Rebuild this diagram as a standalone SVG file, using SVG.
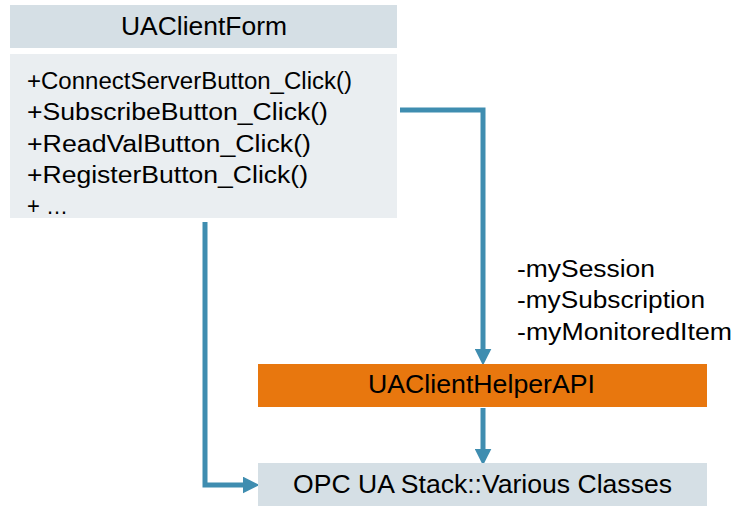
<svg xmlns="http://www.w3.org/2000/svg" width="737" height="506" viewBox="0 0 737 506">
  <style>
    text { font-family: "Liberation Sans", Arial, sans-serif; fill: #000; }
    .title { font-size: 25px; }
    .member { font-size: 23.5px; }
    .conn { fill: none; stroke: #3f8db0; stroke-width: 5; stroke-linejoin: miter; }
  </style>
  <defs>
    <marker id="arrow" viewBox="0 0 10 10" refX="2" refY="5" markerWidth="3.4" markerHeight="3.4" markerUnits="strokeWidth" orient="auto">
      <path d="M0,0 L10,5 L0,10 Z" fill="#3f8db0"/>
    </marker>
  </defs>
  <rect width="737" height="506" fill="#ffffff"/>

  <g id="connectors">
    <path class="conn" d="M400,110 H483 V352" marker-end="url(#arrow)"/>
    <path class="conn" d="M205,222 V485 H246" marker-end="url(#arrow)"/>
    <path class="conn" d="M483,408 V452" marker-end="url(#arrow)"/>
  </g>

  <g id="uaclientform">
    <rect x="10" y="5" width="387" height="43" fill="#d5dfe5"/>
    <text class="title" x="121" y="35" textLength="166" lengthAdjust="spacingAndGlyphs">UAClientForm</text>
    <rect x="10" y="54" width="387" height="164" fill="#eaeef1"/>
    <text class="member" x="27" y="88.5" textLength="325" lengthAdjust="spacingAndGlyphs">+ConnectServerButton_Click()</text>
    <text class="member" x="27" y="120" textLength="301" lengthAdjust="spacingAndGlyphs">+SubscribeButton_Click()</text>
    <text class="member" x="27" y="151.5" textLength="284" lengthAdjust="spacingAndGlyphs">+ReadValButton_Click()</text>
    <text class="member" x="27" y="183" textLength="281" lengthAdjust="spacingAndGlyphs">+RegisterButton_Click()</text>
    <text class="member" x="27" y="214" textLength="41" lengthAdjust="spacingAndGlyphs">+ …</text>
  </g>

  <g id="members-label">
    <text class="member" x="517" y="276.5" textLength="138" lengthAdjust="spacingAndGlyphs">-mySession</text>
    <text class="member" x="517" y="308" textLength="188" lengthAdjust="spacingAndGlyphs">-mySubscription</text>
    <text class="member" x="517" y="340" textLength="215" lengthAdjust="spacingAndGlyphs">-myMonitoredItem</text>
  </g>

  <g id="uaclienthelperapi">
    <rect x="258" y="364" width="449" height="43" fill="#e8770e"/>
    <text class="title" x="368" y="393.3" textLength="227" lengthAdjust="spacingAndGlyphs">UAClientHelperAPI</text>
  </g>

  <g id="opcuastack">
    <rect x="258" y="463" width="449" height="43" fill="#d5dfe5"/>
    <text class="title" x="293" y="493" textLength="379" lengthAdjust="spacingAndGlyphs">OPC UA Stack::Various Classes</text>
  </g>
</svg>
